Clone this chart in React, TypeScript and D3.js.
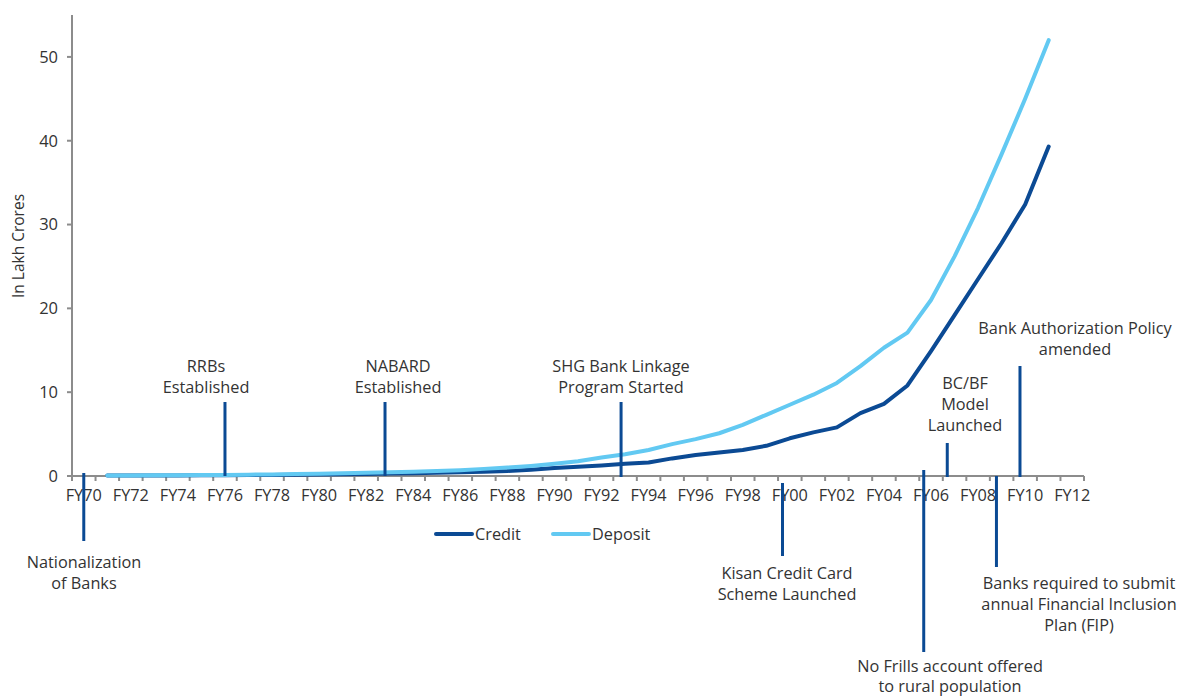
import React from "react";
import * as d3 from "d3";

const years: string[] = d3.range(1970, 2013).map((y) => "FY" + String(y % 100).padStart(2, "0"));
const dataYears: string[] = d3.range(1971, 2012).map((y) => "FY" + String(y % 100).padStart(2, "0"));

const credit: number[] = [
  0.05, 0.05, 0.06, 0.07, 0.08, 0.1, 0.12, 0.13, 0.15, 0.18,
  0.21, 0.25, 0.29, 0.33, 0.4, 0.45, 0.52, 0.6, 0.75, 0.95,
  1.1, 1.25, 1.45, 1.6, 2.1, 2.5, 2.8, 3.1, 3.6, 4.5,
  5.2, 5.8, 7.5, 8.6, 10.8, 14.9, 19.2, 23.5, 27.8, 32.4, 39.3,
];
const deposit: number[] = [
  0.06, 0.07, 0.08, 0.1, 0.11, 0.13, 0.16, 0.19, 0.23, 0.27,
  0.32, 0.38, 0.45, 0.52, 0.6, 0.7, 0.85, 1.0, 1.2, 1.45,
  1.75, 2.2, 2.6, 3.1, 3.8, 4.4, 5.1, 6.1, 7.3, 8.5,
  9.7, 11.1, 13.1, 15.3, 17.1, 21.0, 26.2, 32.0, 38.4, 45.0, 52.0,
];
const yTicks: number[] = [0, 10, 20, 30, 40, 50];

const annoYears: number[] = [1970.0, 1976.0, 1982.8, 1992.83, 1999.69, 2005.69, 2006.69, 2008.78, 2009.78];
const annoLines: string[][] = [
  ["Nationalization", "of Banks"],
  ["RRBs", "Established"],
  ["NABARD", "Established"],
  ["SHG Bank Linkage", "Program Started"],
  ["Kisan Credit Card", "Scheme Launched"],
  ["No Frills account offered", "to rural population"],
  ["BC/BF", "Model", "Launched"],
  ["Banks required to submit", "annual Financial Inclusion", "Plan (FIP)"],
  ["Bank Authorization Policy", "amended"],
];

const W = 1183;
const H = 698;
const X0 = 72;
const X1 = 1084;
const Y0 = 476;
const YTOP = 15;

const DARK = "#0b4a94";
const LIGHT = "#62c9f2";
const TEXT = "#333333";
const AXIS = "#8c8c8c";
const FONT = "'Open Sans', 'Noto Sans', sans-serif";
const FS = 16.3;

export default function App() {
  const x = d3.scaleBand<string>().domain(years).range([X0, X1]).padding(0);
  const bw = x.bandwidth();
  const yearX = d3.scaleLinear().domain([1970, 2012]).range([X0 + bw / 2, X1 - bw / 2]);
  const y = d3.scaleLinear().domain([0, 55]).range([Y0, YTOP]);

  const line = d3
    .line<number>()
    .x((_, i) => (x(dataYears[i]) as number) + bw / 2)
    .y((v) => y(v))
    .curve(d3.curveLinear);

  const layout = [
    { top: 473, bottom: 541, tx: 84, ty: 562, gap: 21 },
    { top: 402, bottom: 476, tx: 206, ty: 366, gap: 21 },
    { top: 402, bottom: 476, tx: 398, ty: 366, gap: 21 },
    { top: 402, bottom: 477, tx: 621, ty: 366, gap: 21 },
    { top: 483, bottom: 556, tx: 787, ty: 573, gap: 21 },
    { top: 470, bottom: 652, tx: 950, ty: 666, gap: 20 },
    { top: 443, bottom: 477, tx: 965, ty: 383, gap: 21 },
    { top: 476, bottom: 567, tx: 1079, ty: 583, gap: 21 },
    { top: 366, bottom: 477, tx: 1075, ty: 328, gap: 21 },
  ];

  const boundaries = d3.range(0, years.length + 1).map((i) => X0 + i * bw);

  return (
    <svg
      width={W}
      height={H}
      style={{ position: "absolute", left: 0, top: 0, background: "#fff" }}
      fontFamily={FONT}
    >
      <line x1={X0} x2={X0} y1={YTOP} y2={Y0} stroke={AXIS} strokeWidth={2} />
      {yTicks.map((t) => (
        <g key={t}>
          <line x1={X0 - 5} x2={X0} y1={y(t)} y2={y(t)} stroke={AXIS} strokeWidth={2} />
          <text x={X0 - 14} y={y(t)} dy="0.35em" textAnchor="end" fontSize={16.5} fill={TEXT}>
            {t}
          </text>
        </g>
      ))}
      <text
        transform={`translate(19,246) rotate(-90)`}
        textAnchor="middle"
        dy="0.35em"
        fontSize={15.5}
        fill={TEXT}
      >
        In Lakh Crores
      </text>

      <line x1={X0} x2={X1} y1={Y0} y2={Y0} stroke={AXIS} strokeWidth={2} />
      {boundaries.map((bx, i) => (
        <line key={i} x1={bx} x2={bx} y1={Y0} y2={Y0 + 5} stroke={AXIS} strokeWidth={2} />
      ))}
      {years.map((c, i) =>
        i % 2 === 0 ? (
          <text
            key={c}
            x={(x(c) as number) + bw / 2}
            y={495}
            dy="0.35em"
            textAnchor="middle"
            fontSize={FS}
            fill={TEXT}
          >
            {c}
          </text>
        ) : null
      )}

      <path d={line(credit) as string} fill="none" stroke={DARK} strokeWidth={4} strokeLinejoin="round" strokeLinecap="round" />
      <path d={line(deposit) as string} fill="none" stroke={LIGHT} strokeWidth={4} strokeLinejoin="round" strokeLinecap="round" />

      {annoYears.map((yr, i) => {
        const L = layout[i];
        const ax = yearX(yr);
        return (
          <g key={i}>
            <line x1={ax} x2={ax} y1={L.top} y2={L.bottom} stroke={DARK} strokeWidth={3} />
            {annoLines[i].map((s, j) => (
              <text key={j} x={L.tx} y={L.ty + j * L.gap} dy="0.35em" textAnchor="middle" fontSize={FS} fill={TEXT}>
                {s}
              </text>
            ))}
          </g>
        );
      })}

      <line x1={436} x2={472} y1={534} y2={534} stroke={DARK} strokeWidth={4} strokeLinecap="round" />
      <text x={475} y={534} dy="0.35em" fontSize={FS} fill={TEXT}>Credit</text>
      <line x1={553} x2={589} y1={534} y2={534} stroke={LIGHT} strokeWidth={4} strokeLinecap="round" />
      <text x={592} y={534} dy="0.35em" fontSize={FS} fill={TEXT}>Deposit</text>
    </svg>
  );
}
